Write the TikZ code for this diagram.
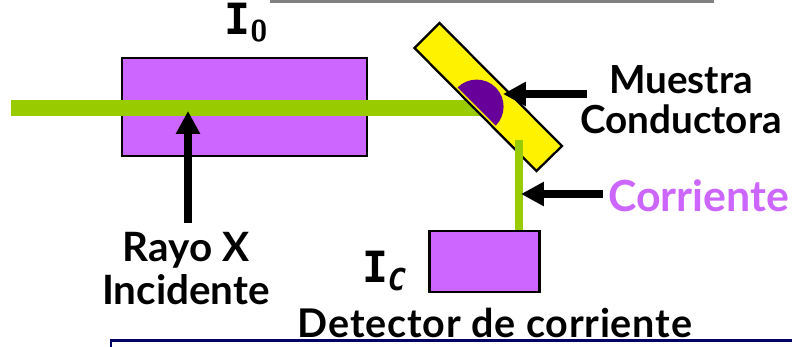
\documentclass[tikz,border=0pt]{standalone}
\usepackage{fontspec}
\setmainfont{Lato}[BoldFont={Lato Bold}]
\newfontfamily\symbfont{DejaVu Sans Mono}
\usetikzlibrary{arrows.meta}

\definecolor{beamgreen}{HTML}{99CC00}
\definecolor{boxviolet}{HTML}{CC66FF}
\definecolor{spotpurple}{HTML}{660099}
\definecolor{framenavy}{HTML}{000066}

\tikzset{
	caption/.style={font=\fontsize{22}{24}\selectfont\bfseries, align=center, text=black},
	symb/.style={font=\fontsize{24.5}{26}\selectfont\bfseries\symbfont, inner sep=0pt},
	detectorbox/.style={draw=black, line width=1.3pt, fill=boxviolet},
	beam/.style={draw=beamgreen},
	pointer/.style={draw=black, line width=4pt, -{Triangle[length=13pt, width=13pt]}}
}

\begin{document}
\begin{tikzpicture}
			\useasboundingbox (0,0) rectangle (15.84,6.92);

			% frame pieces at the top and the bottom
			\fill[gray]	(5.4,6.87)	rectangle	(14.28,6.92);
			\draw[framenavy, line width=1.3pt, fill=white]	(2.22,-0.5)	rectangle	(16.5,0.11);

			% boxes
			\node[detectorbox, minimum width=4.9cm, minimum height=1.96cm, inner sep=0pt]	(chamber)	at (4.89,4.78)	{};
			\node[detectorbox, minimum width=2.2cm, minimum height=1.22cm, inner sep=0pt]	(detector)	at (9.69,1.69)	{};

			% beam
			\coordinate	(beamstart)	at (0.22,4.76);
			\coordinate	(beamend)	at (9.9,4.76);
			\draw[beam, line width=9pt]	(beamstart)	--	(beamend);

			% sample
			\draw[black, line width=1.3pt, fill=yellow]	(8.79,6.46)	--	(8.29,5.96)	--	(10.73,3.50)	--	(11.24,4.00)	--	cycle;
			\fill[spotpurple]	(9.15,5.17)	arc	(135:-45:0.54)	--	cycle;

			% current
			\coordinate	(wiretop)	at (10.38,4.12);
			\draw[beam, line width=4.4pt]	(wiretop)	--	(detector.north -| wiretop);

			% pointers
			\coordinate	(raytail)	at (3.76,2.46);
			\coordinate	(raytip)	at (3.76,4.70);
			\coordinate	(sampletail)	at (11.74,5.04);
			\coordinate	(sampletip)	at (10.06,5.04);
			\coordinate	(currenttail)	at (12.06,3.04);
			\coordinate	(currenttip)	at (10.42,3.04);
			\draw[pointer]	(raytail)		--	(raytip);
			\draw[pointer]	(sampletail)	--	(sampletip);
			\draw[pointer]	(currenttail)	--	(currenttip);

			% labels
			\node[symb]	(izero)	at (4.93,6.47)	{I\textsubscript{\bfseries\sffamily 0}};
			\node[symb]	(ic)	at (7.69,1.5)	{I\textsubscript{\bfseries\itshape C}};
			\node[caption]	(sample)	at (13.62,4.93)	{Muestra\\[-1pt]Conductora};
			\node[caption, text=boxviolet, font=\fontsize{24.4}{26}\selectfont\bfseries]	(current)	at (13.97,3.0)	{Corriente};
			\node[caption, font=\fontsize{23}{25}\selectfont\bfseries]	(ray)	at (3.72,1.55)	{Rayo X\\[-1pt]Incidente};
			\node[caption, font=\fontsize{22.5}{24}\selectfont\bfseries\addfontfeatures{LetterSpace=2}]	(detectorlabel)	at (9.9,0.47)	{Detector de corriente};
		\end{tikzpicture}
\end{document}
